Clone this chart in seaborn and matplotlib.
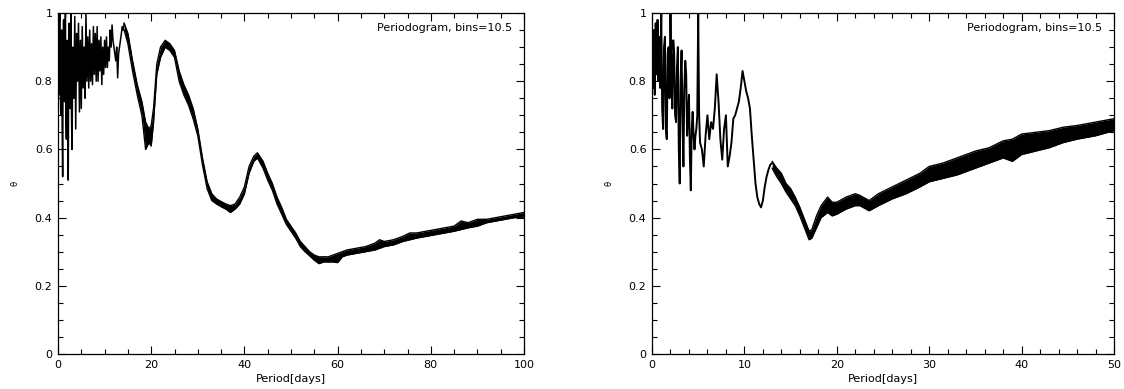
import matplotlib
matplotlib.use("Agg")
import matplotlib.pyplot as plt
import seaborn as sns
import pandas as pd
from matplotlib.ticker import MultipleLocator, FuncFormatter

# ---------------- data: left panel (0-100 days) ----------------
left_noisy_period = [0.0, 0.1, 0.2, 0.3, 0.4, 0.5, 0.6, 0.7, 0.8, 0.9, 1.0, 1.1, 1.2, 1.3, 1.4,
                     1.5, 1.6, 1.7, 1.8, 1.9, 2.0, 2.1, 2.2, 2.3, 2.4, 2.5, 2.6, 2.7, 2.8, 2.9,
                     3.0, 3.2, 3.4, 3.6, 3.8, 4.0, 4.2, 4.4, 4.6, 4.8, 5.0, 5.2, 5.4, 5.6, 5.8,
                     6.0, 6.2, 6.4, 6.6, 6.8, 7.0, 7.2, 7.4, 7.6, 7.8, 8.0, 8.2, 8.4, 8.6, 8.8,
                     9.0, 9.2, 9.4, 9.6, 9.8, 10.0, 10.2, 10.4, 10.6, 10.8, 11.0, 11.2, 11.4,
                     11.6, 11.8, 12.0, 12.2, 12.4, 12.6, 12.8, 13.0, 13.2, 13.4, 13.6, 13.8,
                     14.0, 14.2]
left_noisy_theta = [0.93, 0.80, 0.76, 0.97, 1.00, 0.78, 0.70, 0.92, 0.95, 0.66, 0.52, 0.88, 0.98,
                    0.80, 0.74, 0.96, 1.00, 0.70, 0.63, 0.90, 0.92, 0.64, 0.51, 0.85, 0.97, 0.78,
                    0.72, 0.94, 1.00, 0.70, 0.60, 0.90, 0.75, 0.99, 0.66, 0.94, 0.80, 0.97, 0.71,
                    0.92, 0.72, 0.96, 0.78, 0.90, 0.75, 1.00, 0.80, 0.93, 0.78, 0.95, 0.80, 0.91,
                    0.79, 0.96, 0.82, 0.94, 0.80, 0.96, 0.80, 0.92, 0.83, 0.93, 0.79, 0.90, 0.82,
                    0.92, 0.84, 0.93, 0.84, 0.90, 0.86, 0.95, 0.90, 0.965, 0.92, 0.90, 0.88, 0.86,
                    0.90, 0.81, 0.88, 0.90, 0.92, 0.94, 0.96, 0.95, 0.97]

left_band_period = [14.2, 15.0, 16.0, 17.0, 18.0, 18.8, 19.5, 20.0, 20.5, 21.2, 22.0, 23.0, 24.0,
                    25.0, 26.0, 27.0, 28.0, 29.0, 30.0, 31.0, 32.0, 33.0, 34.0, 35.0, 36.0, 37.0,
                    38.0, 39.0, 40.0, 41.0, 42.0, 42.8, 44.0, 45.0, 46.0, 47.0, 48.0, 49.0, 50.0,
                    51.0, 52.0, 53.0, 54.0, 55.0, 56.0, 57.0, 58.0, 59.0, 60.0, 61.0, 62.0, 64.0,
                    66.0, 68.0, 69.0, 70.0, 72.0, 74.0, 75.5, 77.0, 79.0, 81.0, 83.0, 85.0, 86.5,
                    88.0, 90.0, 92.0, 94.0, 96.0, 98.0, 100.0]
left_band_lo = [0.95, 0.91, 0.83, 0.76, 0.70, 0.60, 0.62, 0.61, 0.68, 0.82, 0.87, 0.90, 0.89,
                0.87, 0.80, 0.76, 0.73, 0.69, 0.64, 0.555, 0.485, 0.45, 0.44, 0.432, 0.425, 0.415,
                0.425, 0.44, 0.47, 0.53, 0.565, 0.575, 0.545, 0.51, 0.48, 0.44, 0.41, 0.38, 0.36,
                0.34, 0.315, 0.30, 0.288, 0.275, 0.265, 0.27, 0.27, 0.27, 0.268, 0.285, 0.29, 0.295,
                0.30, 0.305, 0.31, 0.315, 0.32, 0.33, 0.335, 0.34, 0.345, 0.35, 0.355, 0.36, 0.365,
                0.37, 0.375, 0.385, 0.39, 0.395, 0.40, 0.402]
left_band_hi = [0.97, 0.94, 0.86, 0.79, 0.74, 0.68, 0.66, 0.67, 0.72, 0.85, 0.90, 0.92, 0.91,
                0.89, 0.83, 0.79, 0.76, 0.72, 0.66, 0.575, 0.505, 0.47, 0.455, 0.447, 0.44, 0.435,
                0.44, 0.46, 0.49, 0.55, 0.58, 0.59, 0.565, 0.53, 0.50, 0.46, 0.43, 0.395, 0.375,
                0.355, 0.33, 0.315, 0.30, 0.29, 0.285, 0.285, 0.285, 0.29, 0.295, 0.30, 0.305, 0.31,
                0.315, 0.325, 0.335, 0.33, 0.335, 0.345, 0.355, 0.355, 0.36, 0.365, 0.37, 0.375,
                0.39, 0.385, 0.395, 0.395, 0.40, 0.405, 0.41, 0.415]

# ---------------- data: right panel (0-50 days) ----------------
right_noisy_period = [0.0, 0.1, 0.2, 0.3, 0.4, 0.5, 0.6, 0.7, 0.8, 0.9, 1.0, 1.1, 1.2, 1.3, 1.4,
                      1.5, 1.6, 1.7, 1.8, 1.9, 2.0, 2.1, 2.2, 2.3, 2.4, 2.5, 2.6, 2.7, 2.8, 2.9,
                      3.0, 3.1, 3.2, 3.3, 3.4, 3.5, 3.6, 3.7, 3.8, 3.9, 4.0, 4.1, 4.2, 4.3, 4.4,
                      4.5, 4.6, 4.7, 4.8, 4.9, 5.0, 5.1, 5.2, 5.4, 5.6, 5.8,
                      6.0, 6.2, 6.4, 6.6, 6.8, 7.0, 7.2, 7.4, 7.6, 7.8, 8.0, 8.2, 8.4, 8.6, 8.8,
                      9.0, 9.2, 9.4, 9.6, 9.8, 10.0, 10.2, 10.4, 10.6, 10.8, 11.0, 11.2, 11.4,
                      11.6, 11.8, 12.0, 12.2, 12.4, 12.6, 12.8, 13.0]
right_noisy_theta = [0.88, 0.78, 0.95, 0.76, 0.97, 0.82, 0.98, 0.80, 0.93, 0.78, 1.00, 0.72, 0.66,
                     0.90, 0.93, 0.66, 0.63, 0.88, 0.90, 0.75, 1.00, 0.80, 0.72, 0.92, 0.88, 0.70,
                     0.68, 0.84, 0.90, 0.60, 0.50, 0.80, 0.89, 0.70, 0.55, 0.78, 0.86, 0.82, 0.64,
                     0.70, 0.76, 0.58, 0.48, 0.66, 0.71, 0.64, 0.60, 0.64, 0.66, 0.70, 1.00, 0.70,
                     0.62, 0.60, 0.55, 0.64, 0.70, 0.63, 0.68, 0.66, 0.72, 0.82, 0.74, 0.63, 0.57,
                     0.66, 0.70, 0.55, 0.58, 0.62, 0.69, 0.70, 0.72, 0.74, 0.78, 0.83, 0.80, 0.77,
                     0.75, 0.72, 0.64, 0.57, 0.50, 0.46, 0.44, 0.43, 0.45, 0.49, 0.52, 0.54, 0.555,
                     0.56]

right_band_period = [13.0, 13.5, 14.0, 14.5, 15.0, 15.5, 16.0, 16.5, 17.0, 17.3, 17.8, 18.3, 19.0,
                     19.5, 20.0, 21.0, 22.0, 22.5, 23.5, 24.5, 26.0, 27.5, 29.0, 30.0, 31.5, 33.0,
                     35.0, 36.5, 38.0, 39.0, 40.0, 41.5, 43.0, 44.5, 46.0, 48.0, 50.0]
right_band_lo = [0.545, 0.52, 0.50, 0.475, 0.455, 0.435, 0.405, 0.37, 0.335, 0.34, 0.37, 0.40,
                 0.415, 0.405, 0.41, 0.425, 0.435, 0.435, 0.42, 0.435, 0.455, 0.47, 0.49, 0.505,
                 0.515, 0.525, 0.545, 0.56, 0.575, 0.565, 0.585, 0.595, 0.605, 0.62, 0.63, 0.64,
                 0.655]
right_band_hi = [0.565, 0.545, 0.53, 0.50, 0.485, 0.46, 0.43, 0.395, 0.36, 0.365, 0.405, 0.435,
                 0.46, 0.445, 0.445, 0.46, 0.47, 0.465, 0.45, 0.47, 0.49, 0.51, 0.53, 0.55,
                 0.56, 0.575, 0.595, 0.605, 0.625, 0.63, 0.645, 0.65, 0.655, 0.665, 0.67, 0.68,
                 0.69]

x_label = "Period[days]"
y_label = "θ"
panel_title = "Periodogram, bins=10.5"

# ---------------- figure ----------------
sns.set_style("ticks")
plt.rcParams["font.family"] = ["DejaVu Sans"]
plt.rcParams["text.color"] = "black"
plt.rcParams["axes.labelcolor"] = "black"
plt.rcParams["xtick.color"] = "black"
plt.rcParams["ytick.color"] = "black"

fig = plt.figure(figsize=(11.24, 3.89), dpi=100)
ax_l = fig.add_axes([58 / 1124, 35 / 389, 466 / 1124, 341 / 389])
ax_r = fig.add_axes([652 / 1124, 35 / 389, 462 / 1124, 341 / 389])


def fmt(v, pos):
    if abs(v - round(v)) < 1e-9:
        return "%d" % round(v)
    return ("%.1f" % v)


def draw(ax, np_x, np_y, bx, blo, bhi, xmax, xmaj, xmin, noisy_lw):
    noisy = pd.DataFrame({"period": np_x, "theta": np_y})
    band = pd.DataFrame({"period": bx, "lo": blo, "hi": bhi})
    ax.fill_between(band["period"], band["lo"], band["hi"], color="black", lw=0)
    sns.lineplot(data=band, x="period", y="lo", ax=ax, color="black", lw=1.0,
                 estimator=None, sort=False)
    sns.lineplot(data=band, x="period", y="hi", ax=ax, color="black", lw=1.0,
                 estimator=None, sort=False)
    sns.lineplot(data=noisy, x="period", y="theta", ax=ax, color="black", lw=noisy_lw,
                 estimator=None, sort=False)
    ax.set_xlim(0, xmax)
    ax.set_ylim(0, 1)
    ax.xaxis.set_major_locator(MultipleLocator(xmaj))
    ax.xaxis.set_minor_locator(MultipleLocator(xmin))
    ax.yaxis.set_major_locator(MultipleLocator(0.2))
    ax.yaxis.set_minor_locator(MultipleLocator(0.05))
    ax.xaxis.set_major_formatter(FuncFormatter(fmt))
    ax.yaxis.set_major_formatter(FuncFormatter(fmt))
    ax.tick_params(which="both", direction="in", top=True, right=True,
                   color="black", labelcolor="black", width=0.8)
    ax.tick_params(which="major", length=5.5, labelsize=8, pad=4)
    ax.tick_params(which="minor", length=3.5)
    for s in ax.spines.values():
        s.set_linewidth(0.9)
        s.set_color("black")
    ax.set_xlabel(x_label, fontsize=8, labelpad=3, color="black")
    ax.set_ylabel(y_label, fontsize=6, labelpad=11, color="black")
    ax.text(0.975, 0.955, panel_title, transform=ax.transAxes, ha="right",
            va="center", fontsize=8, color="black")


draw(ax_l, left_noisy_period, left_noisy_theta, left_band_period, left_band_lo,
     left_band_hi, 100, 20, 5, 1.1)
draw(ax_r, right_noisy_period, right_noisy_theta, right_band_period, right_band_lo,
     right_band_hi, 50, 10, 2, 1.4)

fig.savefig("out.png", dpi=100, facecolor="white")
